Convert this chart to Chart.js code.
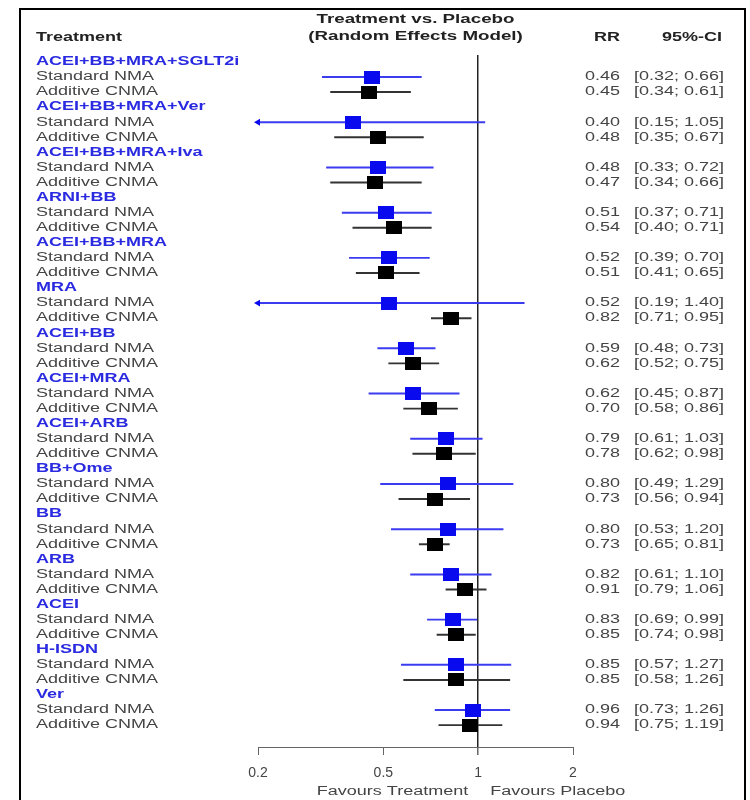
<!DOCTYPE html>
<html lang="en">
<head>
    <meta charset="UTF-8">
    <title>Treatment vs. Placebo</title>
    <script src="https://cdn.jsdelivr.net/npm/chart.js/dist/chart.umd.min.js"></script>
    <style>
        body { margin: 0; background: #fff; }
        canvas { display: block; }
    </style>
</head>
<body>
    <canvas id="forest" width="750" height="800"></canvas>
    <script>
        // DATA =====================================
        const groups = ['ACEI+BB+MRA+SGLT2i', 'ACEI+BB+MRA+Ver', 'ACEI+BB+MRA+Iva', 'ARNI+BB', 'ACEI+BB+MRA',
            'MRA', 'ACEI+BB', 'ACEI+MRA', 'ACEI+ARB', 'BB+Ome', 'BB', 'ARB', 'ACEI', 'H-ISDN', 'Ver']
        const methods = ['Standard NMA', 'Additive CNMA']

        const nmaRR = [0.46, 0.40, 0.48, 0.51, 0.52, 0.52, 0.59, 0.62, 0.79, 0.80, 0.80, 0.82, 0.83, 0.85, 0.96]
        const nmaLo = [0.32, 0.15, 0.33, 0.37, 0.39, 0.19, 0.48, 0.45, 0.61, 0.49, 0.53, 0.61, 0.69, 0.57, 0.73]
        const nmaHi = [0.66, 1.05, 0.72, 0.71, 0.70, 1.40, 0.73, 0.87, 1.03, 1.29, 1.20, 1.10, 0.99, 1.27, 1.26]

        const cnmaRR = [0.45, 0.48, 0.47, 0.54, 0.51, 0.82, 0.62, 0.70, 0.78, 0.73, 0.73, 0.91, 0.85, 0.85, 0.94]
        const cnmaLo = [0.34, 0.35, 0.34, 0.40, 0.41, 0.71, 0.52, 0.58, 0.62, 0.56, 0.65, 0.79, 0.74, 0.58, 0.75]
        const cnmaHi = [0.61, 0.67, 0.66, 0.71, 0.65, 0.95, 0.75, 0.86, 0.98, 0.94, 0.81, 1.06, 0.98, 1.26, 1.19]

        const tickValues = [0.2, 0.5, 1, 2]
        const tickLabels = ['0.2', '0.5', '1', '2']

        // STYLE =====================================
        const FONT = '"Liberation Sans", Arial, sans-serif'
        const SX = 1.5   // reference text is stretched sideways
        const blue = '#0a0aee'
        const labelBlue = '#2a2ae0'
        const grey = '#444'

        // each group takes 3 rows: name, standard, additive
        const rowOf = (g, m) => g * 3 + 1 + m

        const squares = (rr, m) => rr.map((v, g) => ({ x: v, y: rowOf(g, m) }))
        const ciBars = (lo, hi, m) => lo.map((v, g) => ({ x: [v, hi[g]], y: rowOf(g, m) }))

        const xMin = tickValues[0]
        const xMax = tickValues[tickValues.length - 1]
        const arrows = []
        nmaLo.forEach((v, g) => { if (v < xMin) arrows.push({ x: xMin, y: rowOf(g, 0) }) })
        cnmaLo.forEach((v, g) => { if (v < xMin) arrows.push({ x: xMin, y: rowOf(g, 1) }) })

        function box(color) {
            const c = document.createElement('canvas')
            c.width = 16
            c.height = 13
            const g = c.getContext('2d')
            g.fillStyle = color
            g.fillRect(0, 0, 16, 13)
            return c
        }

        function txt(ctx, s, x, y, font, color, align) {
            ctx.save()
            ctx.font = font
            ctx.fillStyle = color
            ctx.textAlign = align || 'left'
            ctx.textBaseline = 'middle'
            ctx.translate(x, y)
            ctx.scale(SX, 1)
            ctx.fillText(s, 0, 0)
            ctx.restore()
        }

        // text columns + frame
        const forestText = {
            id: 'forestText',
            afterDraw(chart) {
                const { ctx, scales: { x, y } } = chart
                const bold = 'bold 12px ' + FONT
                const norm = '12px ' + FONT
                const mid = (x.left + x.right) / 2

                txt(ctx, 'Treatment vs. Placebo', mid, 20, 'bold 12.5px ' + FONT, '#222', 'center')
                txt(ctx, '(Random Effects Model)', mid, 37, 'bold 12.5px ' + FONT, '#222', 'center')
                txt(ctx, 'Treatment', 36, 38, bold, '#222', 'left')
                txt(ctx, 'RR', 620, 38, bold, '#222', 'right')
                txt(ctx, '95%-CI', 722, 38, bold, '#222', 'right')

                groups.forEach((name, g) => {
                    txt(ctx, name, 36, y.getPixelForValue(g * 3), bold, labelBlue, 'left')
                    const rr = [nmaRR[g], cnmaRR[g]]
                    const lo = [nmaLo[g], cnmaLo[g]]
                    const hi = [nmaHi[g], cnmaHi[g]]
                    methods.forEach((m, k) => {
                        const py = y.getPixelForValue(rowOf(g, k))
                        txt(ctx, m, 36, py, norm, grey, 'left')
                        txt(ctx, rr[k].toFixed(2), 620, py, norm, grey, 'right')
                        txt(ctx, '[' + lo[k].toFixed(2) + '; ' + hi[k].toFixed(2) + ']', 724, py, norm, grey, 'right')
                    })
                })

                const one = x.getPixelForValue(1)
                txt(ctx, 'Favours Treatment', one - 10, 792, norm, grey, 'right')
                txt(ctx, 'Favours Placebo', one + 12, 792, norm, grey, 'left')

                ctx.save()
                ctx.strokeStyle = '#000'
                ctx.lineWidth = 2
                ctx.strokeRect(20, 9, 725, 820)
                ctx.restore()
            }
        }

        const config = {
            type: 'scatter',
            data: {
                datasets: [
                    {
                        label: 'Standard NMA',
                        data: squares(nmaRR, 0),
                        pointStyle: box(blue),
                        order: 0
                    },
                    {
                        label: 'Additive CNMA',
                        data: squares(cnmaRR, 1),
                        pointStyle: box('#000'),
                        order: 0
                    },
                    {
                        label: 'clipped',
                        data: arrows,
                        pointStyle: 'triangle',
                        rotation: 270,
                        radius: 4,
                        backgroundColor: blue,
                        borderColor: blue,
                        borderWidth: 0,
                        clip: 6,
                        order: 1
                    },
                    {
                        type: 'bar',
                        label: 'Standard NMA CI',
                        indexAxis: 'y',
                        grouped: false,
                        data: ciBars(nmaLo, nmaHi, 0),
                        backgroundColor: '#3b3bf0',
                        barThickness: 1.3,
                        order: 2
                    },
                    {
                        type: 'bar',
                        label: 'Additive CNMA CI',
                        indexAxis: 'y',
                        grouped: false,
                        data: ciBars(cnmaLo, cnmaHi, 1),
                        backgroundColor: '#333',
                        barThickness: 1.3,
                        order: 2
                    }
                ]
            },
            options: {
                responsive: false,
                animation: false,
                events: [],
                layout: { padding: { left: 258, right: 177, top: 55, bottom: 0 } },
                plugins: {
                    legend: { display: false },
                    tooltip: { enabled: false }
                },
                scales: {
                    x: {
                        type: 'logarithmic',
                        min: xMin,
                        max: xMax,
                        offset: false,
                        afterBuildTicks: (s) => { s.ticks = tickValues.map(v => ({ value: v })) },
                        afterFit: (s) => { s.height = 53 },
                        ticks: {
                            callback: (v, i) => tickLabels[i],
                            color: grey,
                            font: { family: FONT, size: 14 },
                            padding: 10,
                            maxRotation: 0,
                            autoSkip: false
                        },
                        grid: {
                            offset: false,
                            color: (c) => (c.tick && c.tick.value === 1) ? '#222' : 'rgba(0,0,0,0)',
                            tickColor: '#666',
                            lineWidth: (c) => (c.tick && c.tick.value === 1) ? 1.5 : 1,
                            tickLength: 8
                        },
                        border: { display: true, color: '#666', width: 1 }
                    },
                    y: {
                        type: 'linear',
                        display: false,
                        reverse: true,
                        offset: false,
                        grid: { offset: false },
                        min: -0.46,
                        max: 45.45
                    }
                }
            },
            plugins: [forestText]
        }

        const forestChart = new Chart(document.getElementById('forest'), config)
    </script>
</body>
</html>
